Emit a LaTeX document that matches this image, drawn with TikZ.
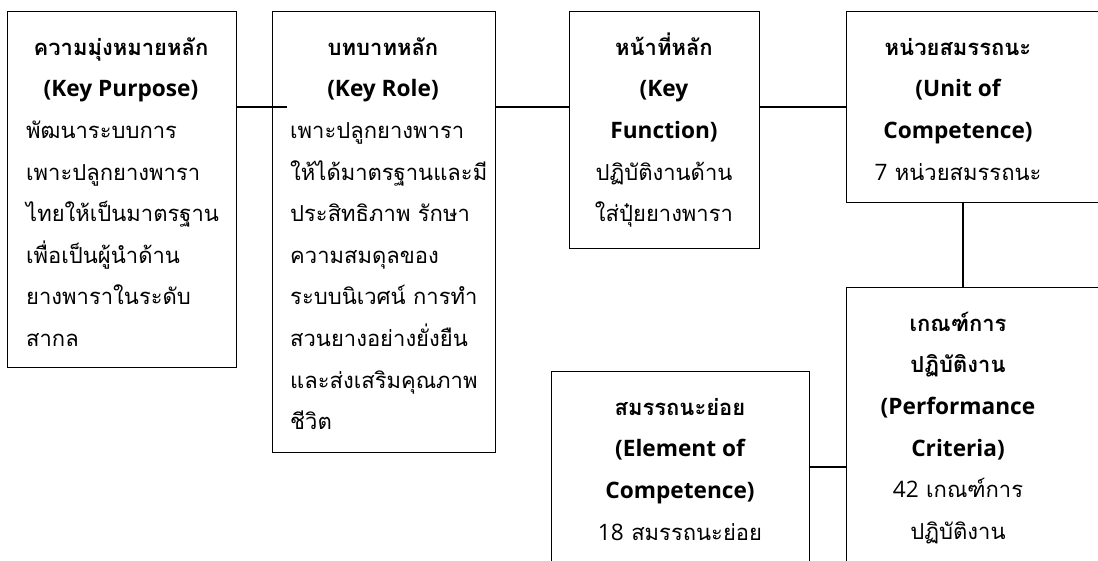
\documentclass[tikz,border=0pt]{standalone}
\usepackage{fontspec}
\setmainfont{Open Sans}
\newfontfamily\thai[Script=Thai]{Loma}
\newfontfamily\latn[Scale=1.03]{Open Sans}
\newcommand\en[1]{{\latn #1}}
\newcommand\fs{\fontsize{22}{41.6}\selectfont}
\begin{document}
\begin{tikzpicture}[x=1pt,y=-1pt,
  box/.style={draw, line width=1.1pt, inner sep=0pt, anchor=north west},
  txt/.style={inner sep=0pt, font=\fs\thai, align=center, anchor=north},
  body/.style={inner sep=0pt, font=\fs\thai, align=left, anchor=north west},
  link/.style={line width=1.3pt}]
\useasboundingbox (0,0) rectangle (1098,560);
\clip (0,0) rectangle (1098,560);

% boxes
\node[box, minimum width=229pt, minimum height=356pt] (b1) at (7,11) {};
\node[box, minimum width=223pt, minimum height=441pt] (b2) at (272,11) {};
\node[box, minimum width=190pt, minimum height=237pt] (b3) at (569,11) {};
\node[box, minimum width=264pt, minimum height=191pt] (b4) at (846,11) {};
\node[box, minimum width=264pt, minimum height=320pt] (b5) at (846,287) {};
\node[box, minimum width=258pt, minimum height=240pt] (b6) at (551,371) {};

% texts
\node[txt] (h1) at (121,25.9) {\strut\bfseries ความมุ่งหมายหลัก\\\bfseries\en{(Key Purpose)}};
\node[body] (p1) at (26,109.1) {\strut พัฒนาระบบการ\\เพาะปลูกยางพารา\\ไทยให้เป็นมาตรฐาน\\เพื่อเป็นผู้นำด้าน\\ยางพาราในระดับ\\สากล};

\node[txt] (h2) at (383,25.9) {\strut\bfseries บทบาทหลัก\\\bfseries\en{(Key Role)}};
\node[body] (p2) at (290,109.1) {\strut เพาะปลูกยางพารา\\ให้ได้มาตรฐานและมี\\ประสิทธิภาพ รักษา\\ความสมดุลของ\\ระบบนิเวศน์ การทำ\\สวนยางอย่างยั่งยืน\\และส่งเสริมคุณภาพ\\ชีวิต};

\node[txt] (h3) at (664,25.9) {\strut\bfseries หน้าที่หลัก\\\bfseries\en{(Key}\\\bfseries\en{Function)}\\ปฏิบัติงานด้าน\\ใส่ปุ๋ยยางพารา};

\node[txt] (h4) at (958,25.9) {\strut\bfseries หน่วยสมรรถนะ\\\bfseries\en{(Unit of}\\\bfseries\en{Competence)}\\\en{7} หน่วยสมรรถนะ};

\node[txt] (h5) at (958,302) {\strut\bfseries เกณฑ์การ\\\bfseries ปฏิบัติงาน\\\bfseries\en{(Performance}\\\bfseries\en{Criteria)}\\\en{42} เกณฑ์การ\\ปฏิบัติงาน};

\node[txt] (h6) at (680,386) {\strut\bfseries สมรรถนะย่อย\\\bfseries\en{(Element of}\\\bfseries\en{Competence)}\\\en{18} สมรรถนะย่อย};

% connectors
\coordinate (j12) at (287,107);
\coordinate (hy) at (0,107);
\coordinate (vx) at (963,0);
\coordinate (hy2) at (0,467);
\draw[link] (b1.east |- j12) -- (j12);
\draw[link] (b2.east |- hy) -- (b3.west |- hy);
\draw[link] (b3.east |- hy) -- (b4.west |- hy);
\draw[link] (b4.south -| vx) -- (b5.north -| vx);
\draw[link] (b6.east |- hy2) -- (b5.west |- hy2);
\end{tikzpicture}
\end{document}
